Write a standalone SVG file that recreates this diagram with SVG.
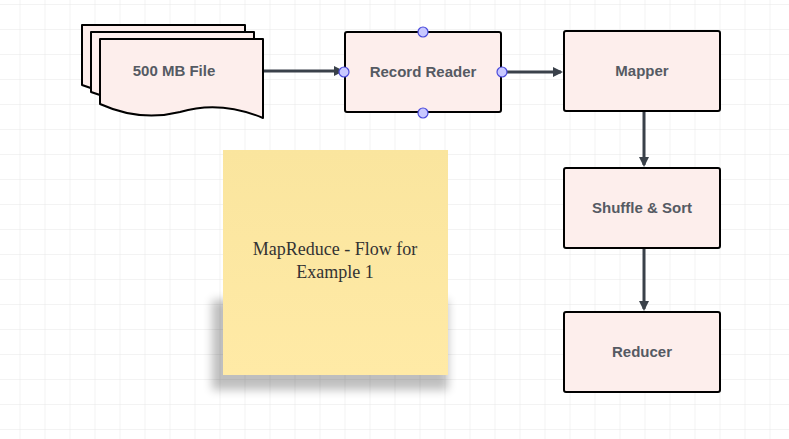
<svg xmlns="http://www.w3.org/2000/svg" width="789" height="439" viewBox="0 0 789 439">
<defs>
<pattern id="grid" x="20.5" y="5" width="25" height="25" patternUnits="userSpaceOnUse"><path d="M25 0V25M0 25H25" fill="none" stroke="#e6e6e6" stroke-width="1"/></pattern>
<marker id="arr" markerWidth="10" markerHeight="10" refX="8" refY="5" orient="auto" markerUnits="userSpaceOnUse"><path d="M0 0L10 5L0 10z" fill="#3a414a"/></marker>
<linearGradient id="note" x1="0" y1="0" x2="0" y2="1"><stop offset="0" stop-color="#fae59e"/><stop offset="1" stop-color="#ffeaa6"/></linearGradient>
<filter id="sh" x="-20%" y="-20%" width="140%" height="140%"><feGaussianBlur stdDeviation="5"/></filter>
</defs>
<style>
.box{fill:#fdeeec;stroke:#000;stroke-width:2}
.lbl{font-family:"Liberation Sans",Arial,sans-serif;font-weight:bold;font-size:15px;fill:#555a63;text-anchor:middle}
.edge{stroke:#3a414a;stroke-width:3;fill:none;marker-end:url(#arr)}
.pt{fill:#c8c8ff;stroke:#4a4adc;stroke-width:1.2}
</style>
<rect width="789" height="439" fill="#fff"/>
<rect width="789" height="439" fill="url(#grid)"/>
<g id="connectors">
<path class="edge" d="M264 71H342"/>
<path class="edge" d="M503 72H561"/>
<path class="edge" d="M644 112V165"/>
<path class="edge" d="M644 249V309"/>
</g>
<g id="file">
<path class="box" d="M82 25H245V85Q200 70 160 86Q120 100 82 85Z" stroke-linejoin="round"/>
<path class="box" d="M91 32H254V92Q210 77 170 93Q130 107 91 92Z" stroke-linejoin="round"/>
<path class="box" d="M100 39H263V118Q220 100 180 112Q140 122 100 104Z" stroke-linejoin="round"/>
<text class="lbl" x="174" y="76">500 MB File</text>
</g>
<g id="record-reader">
<rect class="box" x="345" y="32" width="156" height="80" rx="2"/>
<text class="lbl" x="423" y="77">Record Reader</text>
<circle class="pt" cx="423" cy="32" r="5"/>
<circle class="pt" cx="423" cy="113" r="5"/>
<circle class="pt" cx="344" cy="72" r="5"/>
<circle class="pt" cx="502" cy="72" r="5"/>
</g>
<g id="mapper">
<rect class="box" x="564" y="31" width="156" height="80" rx="2"/>
<text class="lbl" x="642" y="76">Mapper</text>
</g>
<g id="shuffle">
<rect class="box" x="564" y="168" width="156" height="80" rx="2"/>
<text class="lbl" x="642" y="213">Shuffle &amp; Sort</text>
</g>
<g id="reducer">
<rect class="box" x="564" y="312" width="156" height="80" rx="2"/>
<text class="lbl" x="642" y="357">Reducer</text>
</g>
<g id="note-node">
<rect x="212" y="300" width="236" height="90" fill="#000" opacity="0.25" filter="url(#sh)"/>
<rect x="223" y="150" width="225" height="225" fill="url(#note)"/>
<text font-family="'Liberation Serif','DejaVu Serif',serif" font-size="18" fill="#333" text-anchor="middle"><tspan x="335" y="255">MapReduce -  Flow for</tspan><tspan x="335" y="278">Example 1</tspan></text>
</g>
</svg>
